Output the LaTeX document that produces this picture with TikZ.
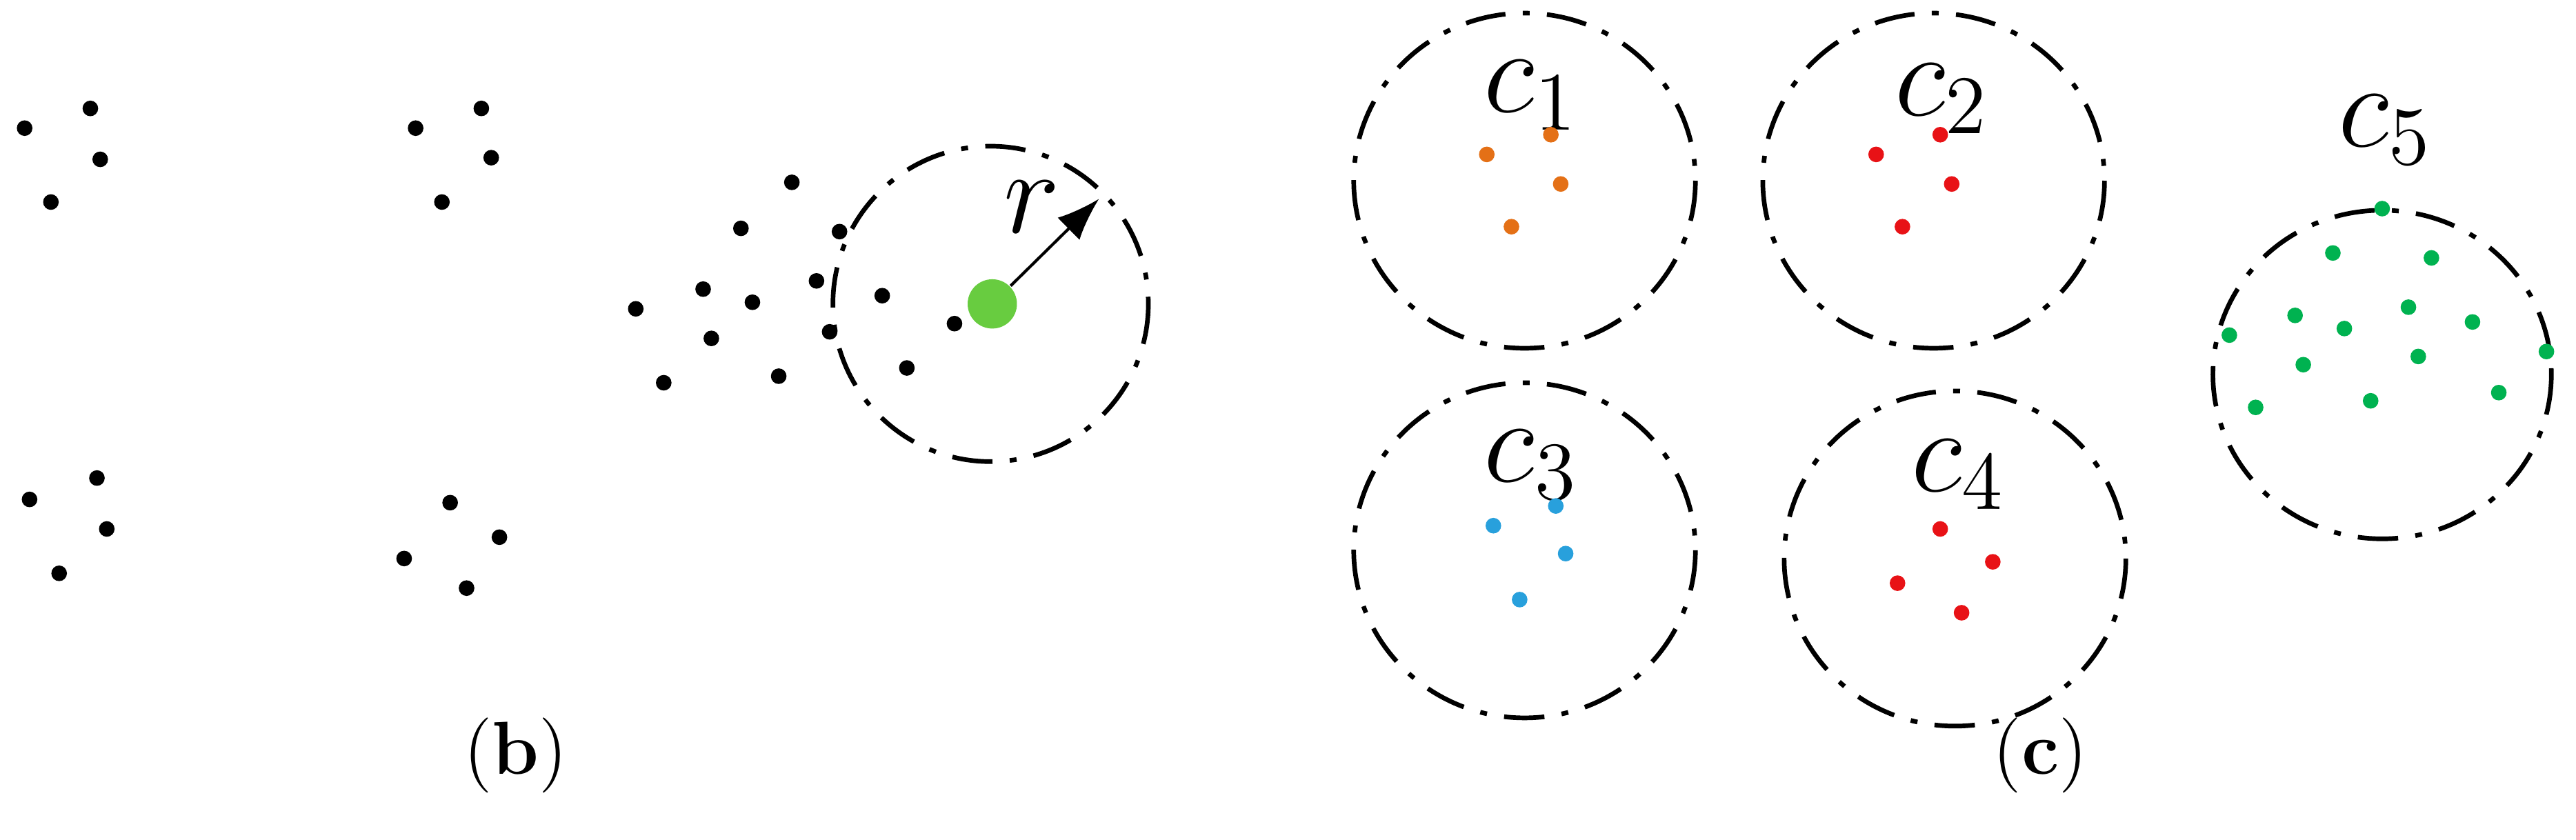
\documentclass[tikz,border=0pt]{standalone}
\usetikzlibrary{arrows.meta, positioning}
\usepackage{xcolor}
\definecolor{dotorange}{RGB}{228,112,22}
\definecolor{dotred}{RGB}{232,18,22}
\definecolor{dotblue}{RGB}{40,160,220}
\definecolor{dotgreen}{RGB}{0,178,80}
\definecolor{seedgreen}{RGB}{104,204,64}

\begin{document}
\begin{tikzpicture}[x=0.1mm, y=-0.1mm]
    \tikzstyle{pt}=[circle,fill=black,minimum size=0.95mm,inner sep=0pt]
    \tikzstyle{seed}=[circle,fill=seedgreen,minimum size=3mm,inner sep=0pt]
    \tikzstyle{zone}=[draw=black,line width=0.8pt,dash pattern=on 7pt off 3pt on 1.2pt off 3pt]
    \tikzstyle{lab}=[font=\fontsize{20}{22}\selectfont]
    \tikzstyle{panel}=[font=\fontsize{13}{15}\selectfont]

    \useasboundingbox (0,0) rectangle (1568,511);

    % Panel (b): scattered points
    \foreach \x/\y [count=\i] in {15/78,55/66,61/97,31/123, 253/78,293/66,299/96,269/123,
        18/304,59/291,65/322,36/349, 274/306,304/327,246/340,284/358,
        482/111,451/139,511/141,428/176,458/184,497/171,387/188,433/206,
        505/202,474/229,404/233,537/180,552/224,581/197}
        \node[pt] (p-\i) at (\x,\y) {};

    \node[seed] (seed) at (604,185) {};
    \draw[zone] (603,185) circle (96);
    \coordinate (rim) at (669,121);
    \draw[-{Latex[length=2.6mm,width=1.9mm]},line width=0.5pt] (seed) -- (rim);
    \node[lab] (rlab) at (628,126) {$r$};
    \node[panel] (capb) at (314,460) {(\textbf{b})};

    % Panel (c): clusters
    \draw[zone] (928,110) ellipse (104 and 102);
    \draw[zone] (1177,110) ellipse (104 and 102);
    \draw[zone] (928,335) ellipse (104 and 102);
    \draw[zone] (1190,340) ellipse (104 and 102);
    \draw[zone] (1450,228) ellipse (103 and 100);

    \node[lab] (c1) at (932,58) {$c_1$};
    \node[lab] (c2) at (1182,60) {$c_2$};
    \node[lab] (c3) at (932,283) {$c_3$};
    \node[lab] (c4) at (1192,289) {$c_4$};
    \node[lab] (c5) at (1452,79) {$c_5$};

    \foreach \x/\y [count=\i] in {905/94,944/82,950/112,920/138}
        \node[pt,fill=dotorange] (o-\i) at (\x,\y) {};
    \foreach \x/\y [count=\i] in {1142/94,1181/82,1188/112,1158/138}
        \node[pt,fill=dotred] (r-\i) at (\x,\y) {};
    \foreach \x/\y [count=\i] in {909/320,947/308,953/337,925/365}
        \node[pt,fill=dotblue] (b-\i) at (\x,\y) {};
    \foreach \x/\y [count=\i] in {1181/322,1213/342,1155/355,1194/373}
        \node[pt,fill=dotred] (s-\i) at (\x,\y) {};
    \foreach \x/\y [count=\i] in {1450/127,1420/154,1480/157,1397/192,1427/200,1466/187,1505/196,
        1357/204,1402/222,1472/217,1550/214,1373/248,1443/244,1521/239}
        \node[pt,fill=dotgreen] (g-\i) at (\x,\y) {};

    \node[panel] (capc) at (1242,460) {(\textbf{c})};
\end{tikzpicture}
\end{document}
